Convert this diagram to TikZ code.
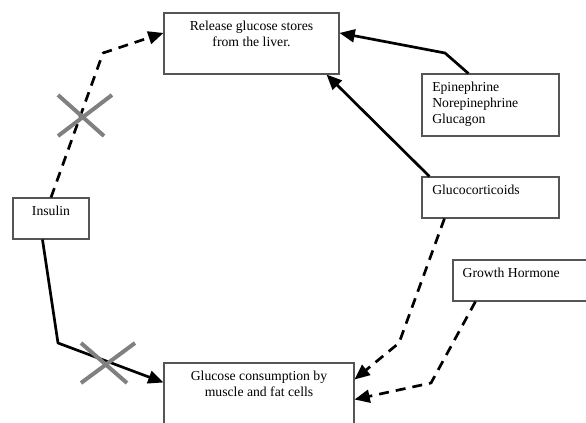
\documentclass[tikz,border=0pt]{standalone}
\usepackage{fontspec}
\setmainfont{Liberation Serif}
\usepackage{tikz}
\usetikzlibrary{arrows.meta, positioning, calc}
\definecolor{boxgray}{RGB}{85, 85, 85}
\definecolor{crossgray}{RGB}{128, 128, 128}

\begin{document}
\begin{tikzpicture}[x=0.03cm, y=-0.03cm,
    font=\fontsize{11.7}{13.7}\selectfont,
    box/.style={draw=boxgray, line width=0.9pt, inner sep=0pt},
    txt/.style={inner sep=0pt},
    link/.style={line width=2.3pt, line join=round, -{Triangle[length=13pt, width=11pt]}},
    linkdash/.style={link, dash pattern=on 8.5pt off 6pt},
    block/.style={crossgray, line width=3.4pt}]
    \clip (0,0) rectangle (586,423);

    % --- Ramki ---
    \node[box, minimum width=5.25cm, minimum height=1.83cm] (release) at (251.5,43.5) {};
    \node[box, minimum width=4.11cm, minimum height=1.86cm] (epi) at (490.5,105) {};
    \node[box, minimum width=4.11cm, minimum height=1.23cm] (gluco) at (490.5,197.5) {};
    \node[box, minimum width=2.28cm, minimum height=1.23cm] (insulin) at (51,218.5) {};
    \node[box, minimum width=4.35cm, minimum height=1.23cm] (growth) at (525.5,280.5) {};
    \node[box, minimum width=5.7cm, minimum height=2.28cm] (glucose) at (259,401) {};

    % --- Teksty w ramkach ---
    \node[txt, align=center, below=7pt of release.north] (releasetxt) {Release glucose stores\\from the liver.};
    \node[txt, align=left, below right=7pt and 9pt of epi.north west] (epitxt) {Epinephrine\\Norepinephrine\\Glucagon};
    \node[txt, align=left, below right=7pt and 9pt of gluco.north west] (glucotxt) {Glucocorticoids};
    \node[txt, below=7pt of insulin.north] (insulintxt) {Insulin};
    \node[txt, align=left, below right=7pt and 8.5pt of growth.north west] (growthtxt) {Growth Hormone};
    \node[txt, align=center, below=7pt of glucose.north] (glucosetxt) {Glucose consumption by\\muscle and fat cells};

    % --- Punkty zalamania ---
    \coordinate (bendliver) at (103,53);
    \coordinate (bendepi) at (445,53);
    \coordinate (bendgluco) at (399,343);
    \coordinate (bendgrowth) at (431,383);
    \coordinate (bendmuscle) at (58,343);

    % --- Strzalki ---
    \draw[linkdash] (insulin.north) -- (bendliver) -- ($(release.north west)!0.33!(release.south west)$);
    \draw[link] ($(epi.north west)!0.34!(epi.north east)$) -- (bendepi) -- ($(release.north east)!0.33!(release.south east)$);
    \draw[link] ($(gluco.north west)+(8,0)$) -- ($(release.south east)+(-13,0)$);
    \draw[linkdash] ($(gluco.south west)+(23,0)$) -- (bendgluco) -- ($(glucose.north east)+(0,17)$);
    \draw[linkdash] ($(growth.south west)+(23,0)$) -- (bendgrowth) -- ($(glucose.north east)+(0,37)$);
    \draw[link] ($(insulin.south west)+(30,0)$) -- (bendmuscle) -- ($(glucose.north west)+(0,20)$);

    % --- Krzyzyki (blokada) ---
    \coordinate (stopliver) at (83,115);
    \draw[block] ($(stopliver)+(-25,-20)$) -- ($(stopliver)+(21,21)$);
    \draw[block] ($(stopliver)+(29,-20)$) -- ($(stopliver)+(-25,21)$);
    \coordinate (stopmuscle) at (106,363);
    \draw[block] ($(stopmuscle)+(-25,20)$) -- ($(stopmuscle)+(29,-20)$);
    \draw[block] ($(stopmuscle)+(-25,-20)$) -- ($(stopmuscle)+(21,20)$);
\end{tikzpicture}
\end{document}
